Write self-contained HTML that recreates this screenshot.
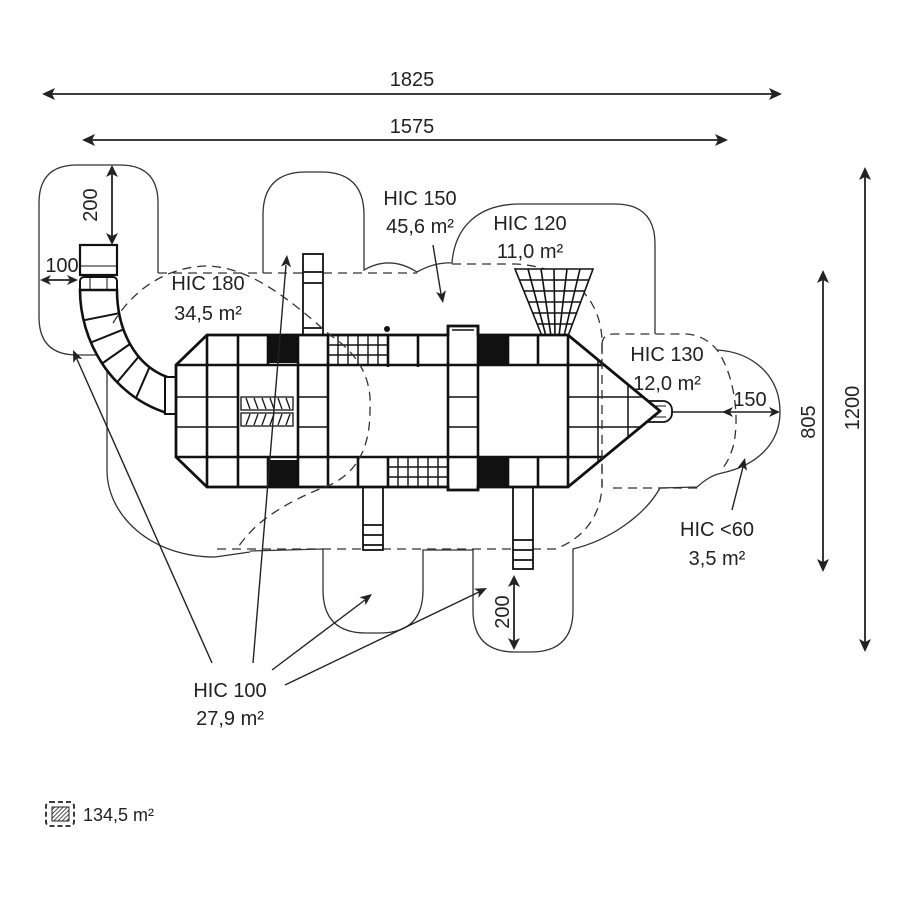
<!DOCTYPE html>
<html><head><meta charset="utf-8"><style>
html,body{margin:0;padding:0;background:#fff;}
svg{display:block}
text{font-family:"Liberation Sans",sans-serif;fill:#222;font-size:20px;}
</style></head><body>
<svg width="900" height="900" viewBox="0 0 900 900" xmlns="http://www.w3.org/2000/svg">
<rect width="900" height="900" fill="#fff"/>

<!-- Dimension lines -->
<g stroke="#222" stroke-width="1.8" fill="none">
  <line x1="46" y1="94" x2="778" y2="94"/>
  <line x1="86" y1="140" x2="724" y2="140"/>
  <line x1="865" y1="171" x2="865" y2="648"/>
  <line x1="823" y1="274" x2="823" y2="568"/>
  <line x1="112" y1="169" x2="112" y2="241"/>
  <line x1="44" y1="280" x2="74" y2="280"/>
  <line x1="672" y1="412" x2="776" y2="412" stroke-width="1.6"/>
  <line x1="514" y1="579" x2="514" y2="646"/>
</g>
<g fill="#222">
  <polygon points="42,94 55,88 52,94 55,100"/>
  <polygon points="782,94 769,88 772,94 769,100"/>
  <polygon points="82,140 95,134 92,140 95,146"/>
  <polygon points="728,140 715,134 718,140 715,146"/>
  <polygon points="865,167 859,180 865,177 871,180"/>
  <polygon points="865,652 859,639 865,642 871,639"/>
  <polygon points="823,270 817,283 823,280 829,283"/>
  <polygon points="823,572 817,559 823,562 829,559"/>
  <polygon points="112,165 106,177 112,174 118,177"/>
  <polygon points="112,245 106,233 112,236 118,233"/>
  <polygon points="40,280 51,275 48,280 51,285"/>
  <polygon points="78,280 67,275 70,280 67,285"/>
  <polygon points="722,412 733,407 730,412 733,417"/>
  <polygon points="780,412 769,407 772,412 769,417"/>
  <polygon points="514,575 508,587 514,584 520,587"/>
  <polygon points="514,650 508,638 514,641 520,638"/>
</g>

<!-- Outer solid contours -->
<g stroke="#333" stroke-width="1.3" fill="none">
  <path d="M158,273 L158,203 Q158,165 120,165 L77,165 Q39,165 39,203 L39,317 Q39,355 77,355 L107,355 L107,470 C107,515 150,557 215,557 L250,552"/>
  <path d="M250,551 L323,549 L323,590 Q323,633 366,633 L380,633 Q423,633 423,590 L423,550 L473,550 L473,610 Q473,652 515,652 L531,652 Q573,652 573,610 L573,549 C610,540 645,515 660,488 L697,487 C705,480 712,475 722,473 C755,466 780,445 780,412 C780,375 752,352 717,350"/>
  <path d="M263,273 L263,215 Q263,172 306,172 L321,172 Q364,172 364,215 L364,270 Q390,255 417,272 Q435,262 452,263 C455,225 480,204 520,204 L615,204 Q655,204 655,244 L655,334"/>
</g>

<!-- Dashed contours (under structure) -->
<g stroke="#333" stroke-width="1.3" fill="none" stroke-dasharray="9,6">
  <path d="M158,273 L417,273"/>
  <path d="M452,264 L515,264 C560,266 600,290 602,340 L602,487 C600,520 580,540 555,549 L215,549"/>
  <path d="M602,345 Q602,334 614,334 L687,334 Q706,336 717,350 C735,375 740,420 733,447 C729,460 725,466 720,471"/>
  <path d="M697,488 L610,488"/>
</g>

<!-- Tube slide -->
<g stroke="#111" fill="#fff">
  <rect x="80" y="245" width="37" height="30" stroke-width="2.2"/>
  <line x1="80" y1="266" x2="117" y2="266" stroke-width="1"/>
  <rect x="80" y="277" width="37" height="16" stroke-width="2" rx="4"/>
  <line x1="90" y1="278" x2="90" y2="292" stroke-width="1"/>
  <line x1="107" y1="278" x2="107" y2="292" stroke-width="1"/>
  <path d="M80,290 C80,340 110,395 167,413 L167,377 C135,365 117,330 117,290 Z" stroke-width="2.6"/>
  <g stroke-width="2">
    <line x1="83.6" y1="320.3" x2="119.1" y2="313.2"/>
    <line x1="90.9" y1="342.5" x2="123.5" y2="329.4"/>
    <line x1="102.1" y1="363.5" x2="130" y2="344"/>
    <line x1="117.2" y1="382.2" x2="138.7" y2="356.6"/>
    <line x1="136" y1="398.1" x2="149.5" y2="367.2"/>
  </g>
  <rect x="165" y="377" width="12" height="37" stroke-width="2"/>
</g>

<!-- Slides / ladders -->
<g stroke="#111" stroke-width="1.8" fill="#fff">
  <rect x="303" y="254" width="20" height="81"/>
  <line x1="303" y1="272" x2="323" y2="272"/>
  <line x1="303" y1="283" x2="323" y2="283"/>
  <line x1="303" y1="328" x2="323" y2="328"/>
  <rect x="363" y="483" width="20" height="67"/>
  <line x1="363" y1="525" x2="383" y2="525"/>
  <line x1="363" y1="535" x2="383" y2="535"/>
  <line x1="363" y1="545" x2="383" y2="545"/>
  <rect x="513" y="483" width="20" height="86"/>
  <line x1="513" y1="540" x2="533" y2="540"/>
  <line x1="513" y1="550" x2="533" y2="550"/>
  <line x1="513" y1="560" x2="533" y2="560"/>
  <rect x="630" y="401" width="42" height="21" rx="9"/>
  <line x1="638" y1="406" x2="666" y2="406" stroke-width="1"/>
  <line x1="638" y1="417" x2="666" y2="417" stroke-width="1"/>
</g>

<!-- HIC 120 net (trapezoid) -->
<g stroke="#111" stroke-width="1.6" fill="#fff">
  <polygon points="515,269 593,269 568,336 542,336"/>
  <line x1="520" y1="280" x2="589" y2="280"/>
  <line x1="524" y1="291" x2="585" y2="291"/>
  <line x1="528" y1="302" x2="581" y2="302"/>
  <line x1="532" y1="313" x2="577" y2="313"/>
  <line x1="537" y1="324" x2="573" y2="324"/>
  <line x1="528" y1="269" x2="546" y2="336"/>
  <line x1="541" y1="269" x2="551" y2="336"/>
  <line x1="554" y1="269" x2="555" y2="336"/>
  <line x1="567" y1="269" x2="559" y2="336"/>
  <line x1="580" y1="269" x2="564" y2="336"/>
</g>

<!-- Main play structure -->
<g stroke="#111" fill="none" stroke-linejoin="miter">
  <path d="M207,335 L448,335 L448,326 L478,326 L478,335 L568,335 L660,411 L568,487 L478,487 L478,490 L448,490 L448,487 L207,487 L176,457 L176,365 Z" fill="#fff" stroke-width="2.8"/>
  <g fill="#111" stroke="none">
    <rect x="268" y="335" width="30" height="28"/>
    <rect x="268" y="460" width="30" height="27"/>
    <rect x="478" y="335" width="30" height="30"/>
    <rect x="478" y="457" width="30" height="30"/>
  </g>
  <g stroke-width="2.6">
    <line x1="176" y1="365" x2="604" y2="365"/>
    <line x1="176" y1="457" x2="604" y2="457"/>
    <line x1="207" y1="335" x2="207" y2="487"/>
    <line x1="238" y1="335" x2="238" y2="487"/>
    <line x1="268" y1="335" x2="268" y2="365"/>
    <line x1="268" y1="457" x2="268" y2="487"/>
    <line x1="298" y1="335" x2="298" y2="487"/>
    <line x1="328" y1="335" x2="328" y2="487"/>
    <line x1="448" y1="326" x2="448" y2="490"/>
    <line x1="478" y1="326" x2="478" y2="490"/>
    <line x1="508" y1="335" x2="508" y2="365"/>
    <line x1="508" y1="457" x2="508" y2="487"/>
    <line x1="538" y1="335" x2="538" y2="365"/>
    <line x1="538" y1="457" x2="538" y2="487"/>
    <line x1="568" y1="335" x2="568" y2="487"/>
    <line x1="388" y1="335" x2="388" y2="367"/>
    <line x1="418" y1="335" x2="418" y2="367"/>
    <line x1="358" y1="457" x2="358" y2="487"/>
    <line x1="388" y1="457" x2="388" y2="487"/>
  </g>
  <g stroke-width="1.5">
    <line x1="176" y1="397" x2="238" y2="397"/>
    <line x1="176" y1="427" x2="238" y2="427"/>
    <line x1="298" y1="397" x2="328" y2="397"/>
    <line x1="298" y1="427" x2="328" y2="427"/>
    <line x1="448" y1="397" x2="478" y2="397"/>
    <line x1="448" y1="427" x2="478" y2="427"/>
    <line x1="568" y1="397" x2="643" y2="397"/>
    <line x1="568" y1="427" x2="640" y2="427"/>
    <line x1="598" y1="360" x2="598" y2="462"/>
    <line x1="628" y1="385" x2="628" y2="437"/>
    <line x1="452" y1="330" x2="474" y2="330"/>
  </g>
  <!-- nets -->
  <g stroke-width="1.4">
    <line x1="338" y1="335" x2="338" y2="365"/>
    <line x1="348" y1="335" x2="348" y2="365"/>
    <line x1="358" y1="335" x2="358" y2="365"/>
    <line x1="368" y1="335" x2="368" y2="365"/>
    <line x1="378" y1="335" x2="378" y2="365"/>
    <line x1="328" y1="345" x2="388" y2="345"/>
    <line x1="328" y1="355" x2="388" y2="355"/>
    <line x1="398" y1="457" x2="398" y2="487"/>
    <line x1="408" y1="457" x2="408" y2="487"/>
    <line x1="418" y1="457" x2="418" y2="487"/>
    <line x1="428" y1="457" x2="428" y2="487"/>
    <line x1="438" y1="457" x2="438" y2="487"/>
    <line x1="388" y1="467" x2="448" y2="467"/>
    <line x1="388" y1="477" x2="448" y2="477"/>
  </g>
  <!-- stairs -->
  <g stroke-width="1.3">
    <rect x="241" y="397" width="52" height="13"/>
    <rect x="241" y="413" width="52" height="13"/>
    <path d="M246,398 L250,409 M254,398 L258,409 M262,398 L266,409 M270,398 L274,409 M278,398 L282,409 M286,398 L290,409"/>
    <path d="M250,414 L246,425 M258,414 L254,425 M266,414 L262,425 M274,414 L270,425 M282,414 L278,425 M290,414 L286,425"/>
  </g>
  <circle cx="387" cy="329" r="3" fill="#111" stroke="none"/>
</g>

<!-- Dashed contours over structure -->
<g stroke="#333" stroke-width="1.3" fill="none" stroke-dasharray="9,6">
  <path d="M113,323 C130,295 160,268 205,266 C250,266 290,300 330,335 C360,355 372,380 370,410 C370,440 362,470 330,485 C290,500 255,520 237,549"/>
  <path d="M602,345 L602,487"/>
</g>

<!-- Leader arrows -->
<g stroke="#222" stroke-width="1.4" fill="none">
  <line x1="212" y1="663" x2="76" y2="357"/>
  <line x1="253" y1="663" x2="286" y2="265"/>
  <line x1="272" y1="670" x2="365" y2="600"/>
  <line x1="285" y1="685" x2="479" y2="592"/>
  <line x1="433" y1="245" x2="441" y2="294"/>
  <line x1="732" y1="510" x2="743" y2="467"/>
</g>
<g fill="#222">
  <polygon points="73,350 82.4,359 76.7,358.2 73.3,363"/>
  <polygon points="287,255 291,267.4 286.3,264 281,266.5"/>
  <polygon points="372,594 365.5,605.2 364.8,599.4 359.4,597.3"/>
  <polygon points="487,588 478.4,597.7 478.9,591.9 474,588.7"/>
  <polygon points="443,303 445.9,290.3 441.5,294.1 436,292"/>
  <polygon points="745,458 746.9,470.9 742.8,466.7 737.2,468.4"/>
</g>

<!-- Labels -->
<g text-anchor="middle">
  <text x="412" y="86">1825</text>
  <text x="412" y="133">1575</text>
  <text x="208" y="290">HIC 180</text>
  <text x="208" y="320">34,5 m²</text>
  <text x="420" y="205">HIC 150</text>
  <text x="420" y="233">45,6 m²</text>
  <text x="530" y="230">HIC 120</text>
  <text x="530" y="258">11,0 m²</text>
  <text x="667" y="361">HIC 130</text>
  <text x="667" y="390">12,0 m²</text>
  <text x="717" y="536">HIC &lt;60</text>
  <text x="717" y="565">3,5 m²</text>
  <text x="230" y="697">HIC 100</text>
  <text x="230" y="725">27,9 m²</text>
  <text x="750" y="406">150</text>
  <text x="62" y="272">100</text>
  <text transform="translate(97,205) rotate(-90)" x="0" y="0">200</text>
  <text transform="translate(509,612) rotate(-90)" x="0" y="0">200</text>
  <text transform="translate(815,422) rotate(-90)" x="0" y="0">805</text>
  <text transform="translate(859,408) rotate(-90)" x="0" y="0">1200</text>
</g>

<!-- Legend -->
<defs>
  <pattern id="hatch" width="3" height="3" patternUnits="userSpaceOnUse" patternTransform="rotate(45)">
    <rect width="3" height="3" fill="#fff"/>
    <line x1="0" y1="0" x2="0" y2="3" stroke="#222" stroke-width="1.6"/>
  </pattern>
</defs>
<rect x="46" y="802" width="28" height="24" rx="4" fill="none" stroke="#222" stroke-width="1.8" stroke-dasharray="5,3"/>
<rect x="52" y="807" width="17" height="14" fill="url(#hatch)" stroke="#222" stroke-width="1"/>
<text x="83" y="821" style="font-size:18px">134,5 m²</text>
</svg>
</body></html>
